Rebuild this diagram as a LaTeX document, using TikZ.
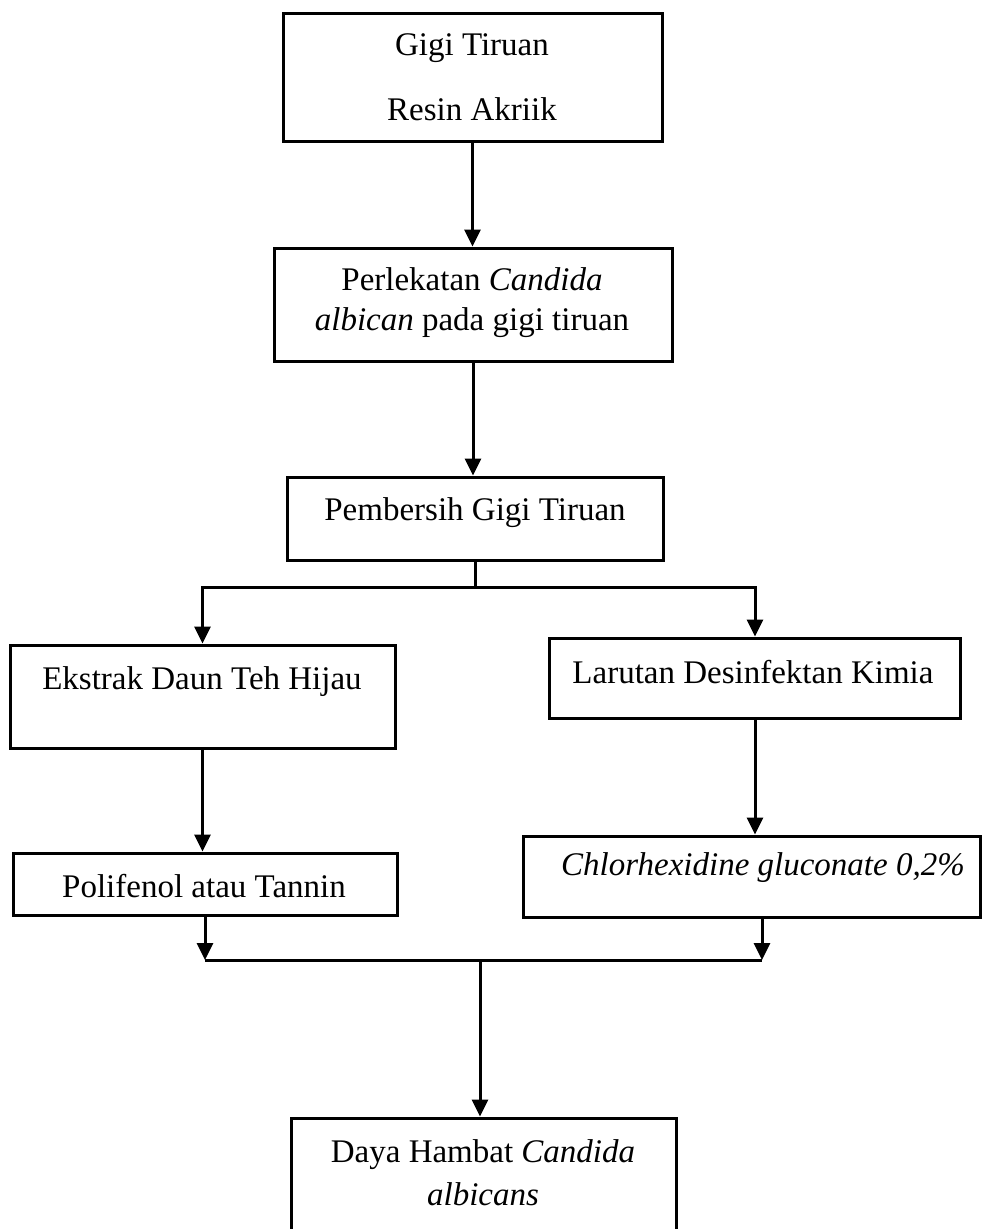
\documentclass[tikz,border=0pt]{standalone}
\usepackage{fontspec}
\setmainfont{Liberation Serif}
\usetikzlibrary{arrows.meta}
\begin{document}
\begin{tikzpicture}[x=1pt,y=-1pt,
  box/.style={draw=black, line width=3pt, rectangle, inner sep=0pt, fill=white},
  txt/.style={anchor=base, inner sep=0pt, font=\fontsize{33}{40}\selectfont},
  con/.style={line width=3pt},
  arr/.style={line width=3pt, -{Triangle[length=17pt,width=16pt]}}]
\useasboundingbox (0,0) rectangle (996,1229);
\fill[white] (0,0) rectangle (996,1229);
% boxes
\node[box, minimum width=379pt, minimum height=128pt] (b1) at (472.5,77) {};
\node[box, minimum width=398pt, minimum height=113pt] (b2) at (473,304.5) {};
\node[box, minimum width=376pt, minimum height=83pt] (b3) at (475,518.5) {};
\node[box, minimum width=385pt, minimum height=103pt] (b4) at (202.5,696.5) {};
\node[box, minimum width=411pt, minimum height=80pt] (b5) at (755,678) {};
\node[box, minimum width=384pt, minimum height=62pt] (b6) at (205,884) {};
\node[box, minimum width=457pt, minimum height=81pt] (b7) at (751.5,876.5) {};
\node[box, minimum width=385pt, minimum height=127pt] (b8) at (483.5,1181.5) {};
% texts
\node[txt] (t1a) at (472,55) {Gigi Tiruan};
\node[txt] (t1b) at (472,120) {Resin Akriik};
\node[txt] (t2a) at (472,290) {Perlekatan \textit{Candida}};
\node[txt] (t2b) at (472,330) {\textit{albican} pada gigi tiruan};
\node[txt] (t3) at (475,520) {Pembersih Gigi Tiruan};
\node[txt] (t4) at (202,689) {Ekstrak Daun Teh Hijau};
\node[txt] (t5) at (753,683) {Larutan Desinfektan Kimia};
\node[txt] (t6) at (204,897) {Polifenol atau Tannin};
\node[txt] (t7) at (763,875) {\textit{Chlorhexidine gluconate 0,2\%}};
\node[txt] (t8a) at (483,1162) {Daya Hambat \textit{Candida}};
\node[txt] (t8b) at (483,1205) {\textit{albicans}};
% connectors
\draw[arr] (b1.south) -- (b1.south |- b2.north);
\draw[arr] (b2.south) -- (b2.south |- b3.north);
\coordinate (s1) at (477,587);
\draw[con] (b3.south) -- (b3.south |- s1);
\draw[arr] (b3.south |- s1) -| (b4.north);
\draw[arr] (b3.south |- s1) -| (b5.north);
\draw[arr] (b4.south) -- (b4.south |- b6.north);
\draw[arr] (b5.south) -- (b5.south |- b7.north);
\coordinate (m) at (480,960);
\coordinate (r7) at (762,917);
\draw[arr] (b6.south) -- (b6.south |- m);
\draw[arr] (r7) -- (r7 |- m);
\draw[con] (b6.south |- m) -- (r7 |- m);
\draw[arr] (m) -- (m |- b8.north);
\end{tikzpicture}
\end{document}
